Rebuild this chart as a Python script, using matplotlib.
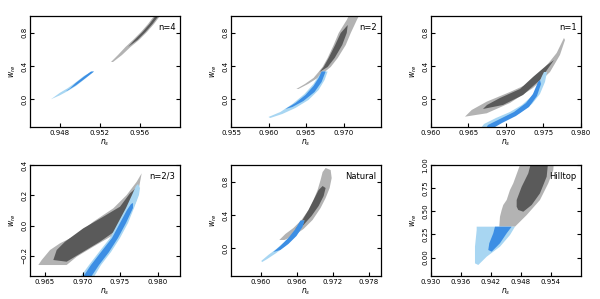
import matplotlib
matplotlib.use("Agg")
import matplotlib.pyplot as plt
from matplotlib.patches import Polygon

# colours of the confidence regions
GRAY95, GRAY68 = "#b3b3b3", "#5a5a5a"
BLUE95, BLUE68 = "#a8d6f2", "#3c8ee4"

# ---- n = 4 ----
n4_gray95 = [(0.9531, 0.4475), (0.9538, 0.5315), (0.95455, 0.6276), (0.9553, 0.7117), (0.9561, 0.8078),
             (0.9568, 0.9039), (0.9574, 1.0), (0.9577, 1.048), (0.9583, 1.048), (0.9580, 1.0),
             (0.9574, 0.9039), (0.9567, 0.8078), (0.9559, 0.7117), (0.95505, 0.6276), (0.9542, 0.5315),
             (0.9533, 0.4475)]
n4_gray68 = [(0.9548, 0.6276), (0.95545, 0.7117), (0.95625, 0.8078), (0.95695, 0.9039), (0.95755, 1.0),
             (0.95785, 1.048), (0.95815, 1.048), (0.95785, 1.0), (0.95725, 0.9039), (0.95655, 0.8078),
             (0.95575, 0.7117)]
n4_blue95 = [(0.9471, 0.0), (0.9480, 0.078), (0.9488, 0.135), (0.9496, 0.205), (0.9504, 0.28),
             (0.9512, 0.333), (0.9514, 0.333), (0.9504, 0.235), (0.9496, 0.16), (0.9488, 0.10),
             (0.9480, 0.048)]
n4_blue68 = [(0.9486, 0.10), (0.9490, 0.13), (0.9496, 0.198), (0.9504, 0.272), (0.9511, 0.333),
             (0.9514, 0.333), (0.9504, 0.24), (0.9496, 0.168), (0.9488, 0.108)]

# ---- n = 2 ----
n2_gray95 = [(0.96372, 0.1231), (0.96486, 0.1832), (0.9660, 0.2553), (0.96668, 0.3273), (0.96721, 0.3874),
             (0.96788, 0.4955), (0.96869, 0.6517), (0.96936, 0.7958), (0.97043, 0.952), (0.97084, 1.024),
             (0.97218, 1.024), (0.97178, 0.952), (0.97097, 0.7958), (0.9703, 0.6517), (0.96923, 0.4955),
             (0.96829, 0.3874), (0.96748, 0.3273), (0.96654, 0.2553), (0.96527, 0.1832), (0.96399, 0.1231)]
n2_gray68 = [(0.96681, 0.3273), (0.96735, 0.3874), (0.96802, 0.4955), (0.96889, 0.6517), (0.96963, 0.7958),
             (0.97057, 0.8919), (0.97043, 0.7958), (0.96983, 0.6517), (0.96882, 0.4955), (0.96788, 0.3874)]
n2_blue95 = [(0.9600, -0.2132), (0.96158, -0.1532), (0.96319, -0.0571), (0.9648, 0.063), (0.966, 0.1832),
             (0.96668, 0.2793), (0.96721, 0.3333), (0.96788, 0.3333), (0.96748, 0.2312), (0.96668, 0.1111),
             (0.96533, -0.009), (0.96359, -0.1051), (0.96184, -0.1772), (0.96023, -0.2252)]
n2_blue68 = [(0.96225, -0.1171), (0.96359, -0.0451), (0.96493, 0.051), (0.966, 0.1592), (0.96668, 0.2553),
             (0.96708, 0.3333), (0.96762, 0.3333), (0.96708, 0.2072), (0.96614, 0.0871), (0.96466, -0.021),
             (0.96319, -0.0931)]

# ---- n = 1 ----
n1_gray95 = [(0.96453, -0.2096), (0.96743, -0.1688), (0.97053, -0.045), (0.9736, 0.135), (0.97587, 0.327),
             (0.9772, 0.532), (0.97787, 0.712), (0.97773, 0.736), (0.97676, 0.556), (0.97493, 0.351),
             (0.9732, 0.195), (0.97053, 0.087), (0.96743, -0.029), (0.96543, -0.129)]
n1_gray68 = [(0.96693, -0.117), (0.9696, -0.069), (0.97227, 0.051), (0.97453, 0.231), (0.9764, 0.471),
             (0.97547, 0.411), (0.9736, 0.267), (0.97187, 0.123), (0.9692, 0.015), (0.96747, -0.069)]
n1_blue95 = [(0.96627, -0.3934), (0.96707, -0.2973), (0.96867, -0.2252), (0.97053, -0.1532), (0.97213, -0.0691),
             (0.97347, 0.039), (0.97427, 0.1592), (0.9748, 0.2793), (0.97507, 0.3273), (0.97547, 0.3273),
             (0.9752, 0.2072), (0.97453, 0.063), (0.97347, -0.0571), (0.97187, -0.1652), (0.97, -0.2492),
             (0.9684, -0.3213), (0.9676, -0.3934)]
n1_blue68 = [(0.96707, -0.3934), (0.9676, -0.3093), (0.9692, -0.2372), (0.97107, -0.1532), (0.97267, -0.0451),
             (0.9736, 0.063), (0.97427, 0.2072), (0.97453, 0.2312), (0.97467, 0.1832), (0.97413, 0.039),
             (0.97307, -0.0931), (0.97133, -0.2012), (0.96947, -0.2853), (0.96787, -0.3694), (0.96773, -0.3934)]

# ---- n = 2/3 ----
n23_gray95 = [(0.96411, -0.2607), (0.96789, -0.2607), (0.96923, -0.2059), (0.97144, -0.1398), (0.97411, -0.0625),
              (0.97589, 0.0148), (0.97723, 0.1688), (0.97789, 0.3452), (0.97723, 0.2897), (0.97589, 0.2018),
              (0.97411, 0.1139), (0.97144, 0.0254), (0.96923, -0.0625), (0.967, -0.1173), (0.96567, -0.1616),
              (0.96456, -0.2277)]
n23_gray68 = [(0.96611, -0.2277), (0.96789, -0.2389), (0.97011, -0.1728), (0.97233, -0.1068), (0.97456, -0.0295),
              (0.97611, 0.0584), (0.977, 0.2348), (0.97709, 0.246), (0.97633, 0.213), (0.975, 0.1245),
              (0.97277, 0.0584), (0.97011, -0.0182), (0.96767, -0.1068), (0.96656, -0.1616)]
n23_blue95 = [(0.9694, -0.3598), (0.97087, -0.2607), (0.9722, -0.1748), (0.97367, -0.0823), (0.97473, 0.0168),
              (0.9758, 0.1159), (0.9766, 0.2018), (0.97713, 0.2613), (0.9774, 0.2745), (0.97767, 0.248),
              (0.97753, 0.2018), (0.97687, 0.1159), (0.97607, 0.0168), (0.9750, -0.0823), (0.9738, -0.1748),
              (0.97247, -0.2607), (0.97127, -0.3598)]
n23_blue68 = [(0.9698, -0.3598), (0.97113, -0.2607), (0.97247, -0.1748), (0.97393, -0.0823), (0.975, 0.0168),
              (0.97593, 0.1027), (0.97647, 0.1423), (0.97673, 0.1489), (0.97673, 0.1159), (0.9758, 0.0168),
              (0.97473, -0.0823), (0.97353, -0.1748), (0.9722, -0.2607), (0.97087, -0.3598)]

# ---- Natural ----
nat_gray95 = [(0.96305, 0.0991), (0.96406, 0.1712), (0.9654, 0.2432), (0.96675, 0.3393), (0.96792, 0.4595),
              (0.96876, 0.5796), (0.96943, 0.6997), (0.96993, 0.8198), (0.97027, 0.9159), (0.97077, 0.964),
              (0.97161, 0.9399), (0.97178, 0.8438), (0.97144, 0.7237), (0.97077, 0.6036), (0.96993, 0.4835),
              (0.96859, 0.3393), (0.96708, 0.2312), (0.9654, 0.1471), (0.96389, 0.0991)]
nat_gray68 = [(0.96574, 0.2312), (0.96691, 0.3393), (0.96792, 0.4595), (0.96876, 0.5796), (0.9696, 0.6997),
              (0.97027, 0.7477), (0.97077, 0.7237), (0.97044, 0.6276), (0.9696, 0.5075), (0.96842, 0.3874),
              (0.96708, 0.2793), (0.96607, 0.2192)]
nat_blue95 = [(0.96003, -0.1532), (0.96121, -0.0811), (0.96255, -0.009), (0.96389, 0.0751), (0.96524, 0.1712),
              (0.96624, 0.2673), (0.96691, 0.3333), (0.96725, 0.3333), (0.96658, 0.2192), (0.9654, 0.1231),
              (0.96406, 0.027), (0.96255, -0.0571), (0.96104, -0.1291), (0.9602, -0.1652)]
nat_blue68 = [(0.96205, -0.045), (0.96322, 0.027), (0.96456, 0.1231), (0.96574, 0.2312), (0.96658, 0.3333),
              (0.96725, 0.3333), (0.96691, 0.2553), (0.96591, 0.1471), (0.96456, 0.0511), (0.96322, -0.021)]

# ---- Hilltop ----
hill_gray95 = [(0.94814, 1.05), (0.94646, 0.802), (0.9458, 0.7297), (0.94514, 0.622), (0.94446, 0.568),
               (0.94414, 0.514), (0.9438, 0.441), (0.94366, 0.3333), (0.9468, 0.3333), (0.94914, 0.459),
               (0.9518, 0.622), (0.95346, 0.802), (0.95446, 0.946), (0.9546, 1.05)]
hill_gray68 = [(0.94714, 0.549), (0.94714, 0.622), (0.94814, 0.765), (0.94946, 0.910), (0.95014, 1.05),
               (0.95346, 1.05), (0.95314, 0.874), (0.9518, 0.694), (0.95014, 0.568), (0.94846, 0.495),
               (0.94746, 0.514)]
hill_blue95 = [(0.93914, 0.3333), (0.9468, 0.3333), (0.9458, 0.243), (0.9438, 0.117), (0.94114, 0.009),
               (0.93946, -0.081), (0.9388, -0.063), (0.9388, 0.117), (0.93914, 0.297)]
hill_blue68 = [(0.9428, 0.3333), (0.94614, 0.3333), (0.94514, 0.262), (0.9438, 0.154), (0.94214, 0.063),
               (0.94146, 0.081), (0.94166, 0.154), (0.94246, 0.262)]

panel_names = ["n=4", "n=2", "n=1", "n=2/3", "Natural", "Hilltop"]
panel_regions = [
    (n4_gray95, n4_gray68, n4_blue95, n4_blue68),
    (n2_gray95, n2_gray68, n2_blue95, n2_blue68),
    (n1_gray95, n1_gray68, n1_blue95, n1_blue68),
    (n23_gray95, n23_gray68, n23_blue95, n23_blue68),
    (nat_gray95, nat_gray68, nat_blue95, nat_blue68),
    (hill_gray95, hill_gray68, hill_blue95, hill_blue68),
]
panel_xlim = [(0.945, 0.960), (0.955, 0.975), (0.960, 0.980), (0.963, 0.983), (0.955, 0.980), (0.930, 0.960)]
panel_ylim = [(-1/3, 1), (-1/3, 1), (-1/3, 1), (-1/3, 0.4), (-1/3, 1), (-0.2, 1.0)]
panel_xticks = [[0.948, 0.952, 0.956], [0.955, 0.960, 0.965, 0.970], [0.960, 0.965, 0.970, 0.975, 0.980],
                [0.965, 0.970, 0.975, 0.980], [0.960, 0.966, 0.972, 0.978],
                [0.930, 0.936, 0.942, 0.948, 0.954]]
panel_yticks = [[0.0, 0.4, 0.8], [0.0, 0.4, 0.8], [0.0, 0.4, 0.8], [-0.2, 0.0, 0.2, 0.4],
                [0.0, 0.4, 0.8], [0.0, 0.25, 0.5, 0.75, 1.0]]

fig = plt.figure(figsize=(6.0, 2.99), dpi=100)
lefts = [0.05, 0.385, 0.7183]
bottoms = [0.5753, 0.0769]

for i, name in enumerate(panel_names):
    ax = fig.add_axes([lefts[i % 3], bottoms[i // 3], 0.25, 0.3712])
    for poly, col in zip(panel_regions[i], [GRAY95, GRAY68, BLUE95, BLUE68]):
        ax.add_patch(Polygon(poly, closed=True, facecolor=col, edgecolor="none"))
    ax.set_xlim(panel_xlim[i])
    ax.set_ylim(panel_ylim[i])
    ax.set_xticks(panel_xticks[i])
    ax.set_yticks(panel_yticks[i])
    ax.set_xticklabels([f"{t:.3f}" for t in panel_xticks[i]])
    fmt = "{:.2f}" if i == 5 else "{:.1f}"
    ax.set_yticklabels([fmt.format(t).replace("-", "\u2212") for t in panel_yticks[i]],
                       rotation=90, va="center")
    ax.tick_params(direction="in", length=3, width=0.8, labelsize=5, pad=2,
                   right=True, top=False)
    for s in ax.spines.values():
        s.set_linewidth(0.9)
    ax.set_xlabel(r"$n_s$", fontsize=5.5, labelpad=1)
    ax.set_ylabel(r"$w_{re}$", fontsize=5.5, labelpad=2)
    ax.text(0.97, 0.9, name, transform=ax.transAxes, ha="right", va="center", fontsize=6)

plt.savefig("out.png", dpi=100)
